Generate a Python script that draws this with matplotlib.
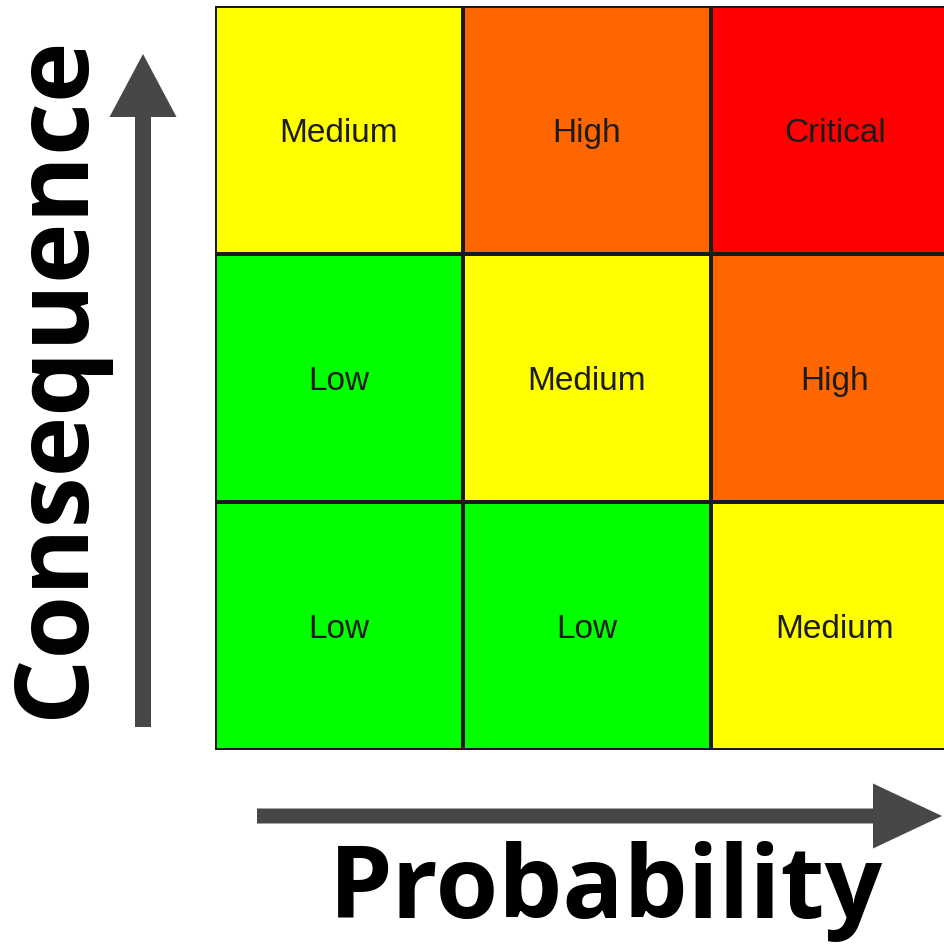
#!/usr/bin/python3
# -*- coding: utf-8 -*-

"""
description: 3x3 risk matrix (probability vs consequence)
"""
import matplotlib.pyplot as plt
import numpy as np
from matplotlib.colors import ListedColormap
from matplotlib.patches import FancyArrow

# risk levels and their colours
levels = ['Low', 'Medium', 'High', 'Critical']
level_colors = ['#00ff00', '#ffff00', '#ff6600', '#ff0000']

# rows from low to high consequence, columns from low to high probability
risk_rows = [
    ['Low', 'Low', 'Medium'],
    ['Low', 'Medium', 'High'],
    ['Medium', 'High', 'Critical'],
]

x_label = 'Probability'
y_label = 'Consequence'


def draw_matrix():
    W = H = 945
    fig = plt.figure(figsize=(W / 100, H / 100), dpi=100)
    fig.patch.set_facecolor('white')

    # grid axes (right column runs past the figure edge)
    cell = 248
    left, top = 215, 7
    ax = fig.add_axes([left / W, (H - top - 3 * cell) / H, 3 * cell / W, 3 * cell / H])
    codes = np.array([[levels.index(v) for v in row] for row in risk_rows])
    cmap = ListedColormap(level_colors)
    ax.pcolormesh(codes, cmap=cmap, vmin=-0.5, vmax=len(levels) - 0.5,
                  edgecolors='#1a1a1a', linewidth=1.6)
    for i, row in enumerate(risk_rows):
        for j, label in enumerate(row):
            ax.text(j + 0.5, i + 0.49, label, ha='center', va='center',
                    fontsize=24, family='Liberation Sans', color='#1c1c1c')
    ax.set_xlim(0, 3)
    ax.set_ylim(0, 3)
    ax.set_axis_off()

    # overlay in pixel coordinates for arrows and axis titles
    ov = fig.add_axes([0, 0, 1, 1], zorder=-1)
    ov.set_xlim(0, W)
    ov.set_ylim(H, 0)
    ov.set_axis_off()

    arrow_color = '#474747'
    ov.add_patch(FancyArrow(143, 728, 0, -673, width=16, head_width=67,
                            head_length=63, length_includes_head=True,
                            color=arrow_color, lw=0))
    ov.add_patch(FancyArrow(257, 817, 685, 0, width=15, head_width=65,
                            head_length=69, length_includes_head=True,
                            color=arrow_color, lw=0))

    ov.text(57, 377, y_label, rotation=90, ha='center', va='center',
            fontsize=74, fontweight='bold', family='Open Sans', color='black')
    ov.text(606, 918, x_label, ha='center', va='baseline',
            fontsize=73, fontweight='bold', family='Open Sans', color='black')

    fig.savefig('out.png', dpi=100, facecolor='white')
    plt.close(fig)


if __name__ == "__main__":
    draw_matrix()
